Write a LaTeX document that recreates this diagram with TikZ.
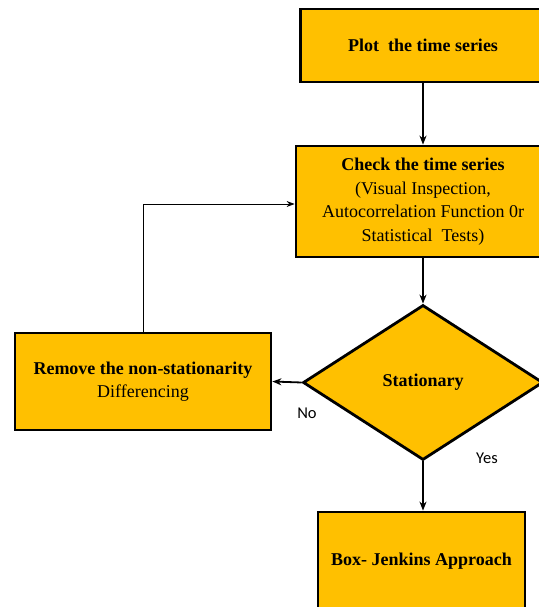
\documentclass[tikz,border=0pt]{standalone}
\usepackage{fontspec}
\setmainfont{Liberation Serif}
\newfontfamily\lblfont{Carlito}
\usepackage{xcolor}
\usepackage{tikz}
\usetikzlibrary{arrows.meta,shapes.geometric,positioning}
\definecolor{boxgold}{HTML}{FFC000}

\begin{document}
\begin{tikzpicture}[x=1pt,y=-1pt,
		stepbox/.style={draw=black,line width=2.8pt,fill=boxgold,rectangle,inner sep=0pt,align=center,font=\fontsize{18}{23.5}\selectfont},
		decide/.style={draw=black,line width=2.8pt,fill=boxgold,diamond,inner sep=0pt,aspect=1.5,font=\fontsize{18}{23.5}\selectfont\bfseries},
		flow/.style={-{Stealth[length=9pt,width=7pt]},line width=1.8pt},
		loop/.style={-{Stealth[length=8pt,width=6pt]},line width=0.9pt},
		lbl/.style={font=\lblfont\fontsize{16.5}{18}\selectfont}
	]
	\useasboundingbox (0,0) rectangle (538,607);
	
	\node [stepbox,minimum width=245pt,minimum height=73pt] (plot) at (423,45.5) {\textbf{Plot\ \ the time series}};
	\node [stepbox,minimum width=254pt,minimum height=111pt] (check) at (423,201.5) {\textbf{Check the time series}\\(Visual Inspection,\\Autocorrelation Function 0r\\Statistical\ \ Tests)};
	\node [decide,minimum width=240pt,minimum height=155pt] (stat) at (423,382.5) {Stationary};
	\node [stepbox,minimum width=256pt,minimum height=97pt] (remove) at (143,381.5) {\textbf{Remove the non-stationarity}\\Differencing};
	\node [stepbox,minimum width=207pt,minimum height=98pt] (boxj) at (421.5,561) {\textbf{Box- Jenkins Approach}};
	
	\draw [flow] (plot) -- (check);
	\draw [flow] (check) -- (stat);
	\draw [flow] (stat.west) -- (remove.east);
	\draw [flow] (stat.south) -- (stat.south |- boxj.north);
	\draw [loop] (remove.north) |- ([yshift=-2.5pt]check.west);
	
	\node [lbl] (no) at (307,413) {No};
	\node [lbl] (yes) at (487,458) {Yes};
\end{tikzpicture}
\end{document}
